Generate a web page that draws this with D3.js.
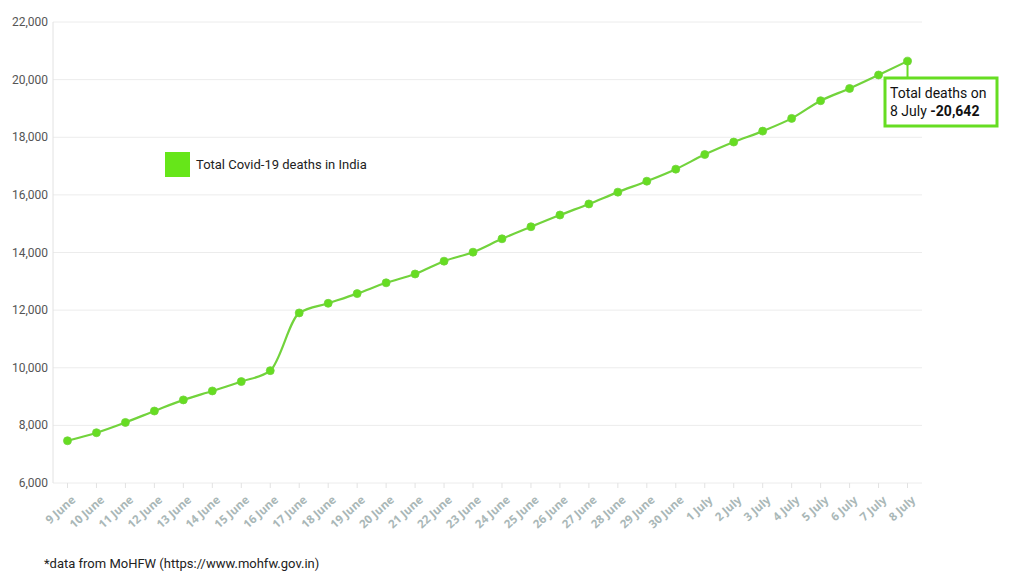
<!DOCTYPE html>
<html><head><meta charset="utf-8">
<script src="https://cdn.jsdelivr.net/npm/d3@7"></script>
<style>
body{margin:0;background:#fff;}
svg{display:block;}
</style></head>
<body><svg id="c" width="1024" height="576"></svg>
<script>
const dates = ["9 June","10 June","11 June","12 June","13 June","14 June","15 June","16 June","17 June","18 June","19 June","20 June","21 June","22 June","23 June","24 June","25 June","26 June","27 June","28 June","29 June","30 June","1 July","2 July","3 July","4 July","5 July","6 July","7 July","8 July"];
const deaths = [7466,7745,8102,8498,8884,9195,9520,9900,11903,12237,12573,12948,13254,13699,14011,14476,14894,15301,15685,16095,16475,16893,17400,17834,18213,18655,19268,19693,20160,20642];
const yTicks = [6000,8000,10000,12000,14000,16000,18000,20000,22000];
const seriesName = "Total Covid-19 deaths in India";
const annoLines = ["Total deaths on", "8 July ", "-20,642"];
const footnote = "*data from MoHFW (https://www.mohfw.gov.in)";

const svg = d3.select("#c");
const L=53, R=922, T=22, B=483;
const x = d3.scalePoint().domain(dates).range([L,R]).padding(0.5);
const y = d3.scaleLinear().domain([6000,22000]).range([B,T]);
const font = "Roboto, 'Liberation Sans', Arial, sans-serif";

// grid
svg.append("g").selectAll("line").data(yTicks).join("line")
  .attr("x1",L).attr("x2",R).attr("y1",d=>y(d)).attr("y2",d=>y(d))
  .attr("stroke","#ececec").attr("stroke-width",1);
// y axis line
svg.append("line").attr("x1",L).attr("x2",L).attr("y1",T).attr("y2",B).attr("stroke","#e2e2e2");
// y labels
svg.append("g").selectAll("text").data(yTicks).join("text")
  .attr("x",L-5).attr("y",d=>y(d)+4).attr("text-anchor","end")
  .attr("font-family",font).attr("font-size",12).attr("fill","#555")
  .text(d=>d3.format(",")(d));
// x ticks
svg.append("g").selectAll("line").data(dates).join("line")
  .attr("x1",d=>x(d)).attr("x2",d=>x(d)).attr("y1",B).attr("y2",B+5).attr("stroke","#e2e2e2");
svg.append("g").selectAll("text").data(dates).join("text")
  .attr("transform",d=>`translate(${x(d)+6},${B+15}) rotate(-42)`)
  .attr("text-anchor","end").attr("dy","0.35em")
  .attr("font-family","'Open Sans', sans-serif").attr("font-weight","bold")
  .attr("font-size",11.5).attr("fill","#a9b7b7")
  .text(d=>d);

// line
const pts = dates.map((d,i)=>({d,v:deaths[i]}));
svg.append("path").datum(pts)
  .attr("d", d3.line().x(p=>x(p.d)).y(p=>y(p.v)).curve(d3.curveMonotoneX))
  .attr("fill","none").attr("stroke","#72d33c").attr("stroke-width",2.2);
svg.append("g").selectAll("circle").data(pts).join("circle")
  .attr("cx",p=>x(p.d)).attr("cy",p=>y(p.v)).attr("r",4)
  .attr("fill","#66dd22").attr("stroke","#72d33c").attr("stroke-width",0.8);

// legend
svg.append("rect").attr("x",165).attr("y",152).attr("width",25).attr("height",25).attr("fill","#66e619");
svg.append("text").attr("x",196).attr("y",169).attr("font-family",font).attr("font-size",13).attr("fill","#222").text(seriesName);

// annotation
const last = pts[pts.length-1];
const ax = x(last.d), ay = y(last.v);
svg.append("line").attr("x1",ax).attr("x2",ax).attr("y1",ay).attr("y2",78).attr("stroke","#66dd22").attr("stroke-width",2);
svg.append("rect").attr("x",885).attr("y",78).attr("width",112).attr("height",48)
  .attr("fill","#fff").attr("stroke","#66dd22").attr("stroke-width",3);
svg.append("text").attr("x",890).attr("y",98).attr("font-family",font).attr("font-size",14).attr("fill","#111").text(annoLines[0]);
const t2 = svg.append("text").attr("x",890).attr("y",116).attr("font-family",font).attr("font-size",14).attr("fill","#111");
t2.append("tspan").text(annoLines[1]);
t2.append("tspan").attr("font-weight","bold").text(annoLines[2]);

// footnote
svg.append("text").attr("x",44).attr("y",568).attr("font-family",font).attr("font-size",13).attr("fill","#222").text(footnote);
</script></body></html>
